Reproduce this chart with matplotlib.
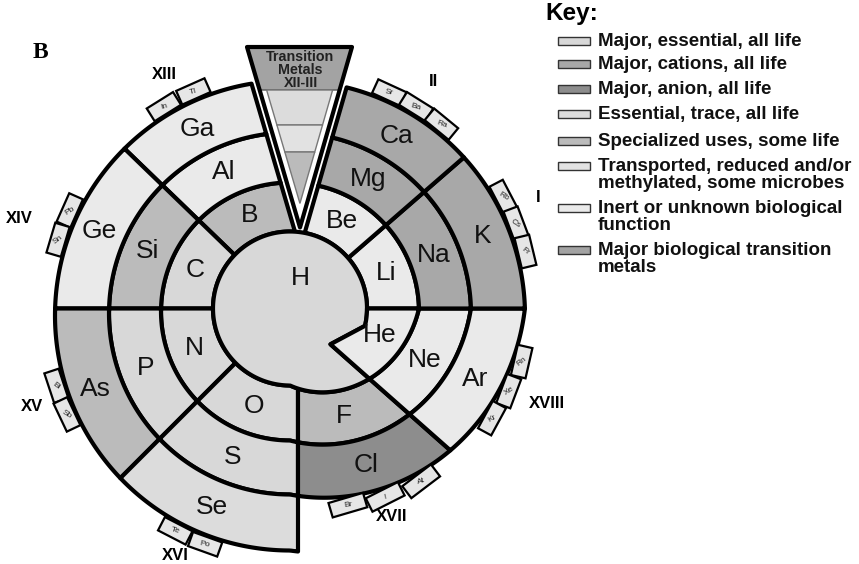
import numpy as np
import matplotlib.pyplot as plt
from matplotlib.patches import Polygon, Rectangle

plt.rcParams['font.family'] = ['Liberation Sans', 'DejaVu Sans']

# elements on each turn of the spiral, counter-clockwise from 3 o'clock
core = ['H', 'He']
band1 = ['Li', 'Be', 'B', 'C', 'N', 'O', 'F', 'Ne']
band2 = ['Na', 'Mg', 'Al', 'Si', 'P', 'S', 'Cl', 'Ar']
band3 = ['K', 'Ca', 'Ga', 'Ge', 'As', 'Se']

category = {
    'H': 'essential', 'C': 'essential', 'N': 'essential', 'O': 'essential',
    'P': 'essential', 'S': 'essential',
    'Na': 'cation', 'K': 'cation', 'Mg': 'cation', 'Ca': 'cation',
    'Cl': 'anion',
    'Se': 'trace',
    'B': 'special', 'Si': 'special', 'F': 'special', 'As': 'special',
    'He': 'inert', 'Ne': 'inert', 'Ar': 'inert', 'Li': 'inert', 'Be': 'inert',
    'Al': 'inert', 'Ga': 'inert', 'Ge': 'inert',
}

key_cats = ['essential', 'cation', 'anion', 'trace', 'special',
            'transported', 'inert', 'transition']
key_text = ['Major, essential, all life',
            'Major, cations, all life',
            'Major, anion, all life',
            'Essential, trace, all life',
            'Specialized uses, some life',
            'Transported, reduced and/or\nmethylated, some microbes',
            'Inert or unknown biological\nfunction',
            'Major biological transition\nmetals']

group_names = ['I', 'II', 'XIII', 'XIV', 'XV', 'XVI', 'XVII', 'XVIII']
group_members = [['Rb', 'Cs', 'Fr'], ['Sr', 'Ba', 'Ra'], ['In', 'Tl'],
                 ['Pb', 'Sn'], ['Bi', 'Sb'], ['Te', 'Po'],
                 ['Br', 'I', 'At'], ['Rn', 'Xe', 'Kr']]

wedge_title = 'Transition\nMetals\nXII-III'
wedge_rows = ['trace', 'transported', 'special']

shade = {'essential': '#d8d8d8', 'cation': '#a8a8a8', 'anion': '#8d8d8d',
         'trace': '#dcdcdc', 'special': '#bbbbbb', 'transported': '#e2e2e2',
         'inert': '#eaeaea', 'transition': '#a3a3a3'}

# ---- layout (pixels) ----
W, Hgt = 859, 564
cx, cy = 290, 308.5
R = [77, 129, 181, 235, 287]
D = [0, 3, 5, 7, 9]

box_angle = {'Rb': 27.6, 'Cs': 20.6, 'Fr': 13.6, 'Sr': 65.3, 'Ba': 58.0,
             'Ra': 50.6, 'In': 122, 'Tl': 114, 'Pb': 156, 'Sn': 163.5,
             'Bi': 198.3, 'Sb': 205.4, 'Te': 242.7, 'Po': 250.2,
             'Br': 286.4, 'I': 296.8, 'At': 307.2,
             'Rn': 347.1, 'Xe': 339.3, 'Kr': 331.5}
group_pos = {'I': (24.2, 272), 'II': (57.7, 268), 'XIII': (118.2, 265),
             'XIV': (161.5, 285), 'XV': (200.9, 276), 'XVI': (245, 272),
             'XVII': (296.1, 232), 'XVIII': (339.8, 274)}


def base(k, th):
    t = np.radians(th)
    return -D[k] * np.sin(t) + np.sqrt(R[k] ** 2 - (D[k] * np.cos(t)) ** 2)


def spiral(k, th):
    th = np.asarray(th, float)
    f = np.clip((th - 270) / 90, 0, 1)
    return (1 - f) * base(k, th) + f * base(k + 1, th)


def to_px(r, th):
    t = np.radians(th)
    return np.column_stack([cx + r * np.cos(t), cy - r * np.sin(t)])


def radial(a, off=0.0):
    t = np.radians(a)
    return (off * np.array([-np.sin(t), np.cos(t)]),
            np.array([np.cos(t), np.sin(t)]))


def hit(line, k, guess):
    p, d = line
    th = guess
    for _ in range(8):
        rho = spiral(k, th)
        pd = p @ d
        s = -pd + np.sqrt(max(pd ** 2 - p @ p + rho ** 2, 0))
        x, y = p + s * d
        a = np.degrees(np.arctan2(y, x))
        th = guess + (a - guess + 180) % 360 - 180
    return th


def sector(k, l0, l1, a0, a1, n=90):
    i0, i1 = hit(l0, k - 1, a0), hit(l1, k - 1, a1)
    o0, o1 = hit(l0, k, a0), hit(l1, k, a1)
    ti = np.linspace(i0, i1, n)
    to = np.linspace(o1, o0, n)
    pts = np.vstack([to_px(spiral(k - 1, ti), ti), to_px(spiral(k, to), to)])
    return pts, (i0 + i1 + o0 + o1) / 4


# transition-metal wedge (math coords relative to centre, y up)
tip = np.array([10.0, 81.0])
top_l = np.array([-43.0, 261.5])
top_r = np.array([62.0, 261.5])
gap = 6.0
d_r = (top_r - tip) / np.linalg.norm(top_r - tip)
d_l = (top_l - tip) / np.linalg.norm(top_l - tip)
cut_r = (tip + gap * np.array([d_r[1], -d_r[0]]), d_r)
cut_l = (tip + gap * np.array([-d_l[1], d_l[0]]), d_l)

lines = [radial(0), radial(41), cut_r, cut_l, radial(136), radial(180),
         radial(225), radial(270, 8), radial(318.5), radial(360)]
guess = [0, 41, 78, 100, 136, 180, 225, 270, 318.5, 360]
pairs = [(0, 1), (1, 2), (3, 4), (4, 5), (5, 6), (6, 7), (7, 8), (8, 9)]

fig = plt.figure(figsize=(W / 100, Hgt / 100), dpi=100)
ax = fig.add_axes([0, 0, 1, 1])
ax.set_xlim(0, W)
ax.set_ylim(Hgt, 0)
ax.axis('off')

edge = dict(edgecolor='black', linewidth=3, joinstyle='round')
lab = dict(fontsize=19, ha='center', va='center', color='#111111')

for k, band in enumerate([band1, band2, band3], start=1):
    for el, (a, b) in zip(band, pairs):
        pts, am = sector(k, lines[a], lines[b], guess[a], guess[b])
        ax.add_patch(Polygon(pts, closed=True, facecolor=shade[category[el]], **edge))
        rm = (spiral(k - 1, am) + spiral(k, am)) / 2
        x, y = to_px(rm, am)[0]
        ax.text(x, y, el, **lab)

# H and He in the centre
notch = to_px(54, 318.5)
th = np.linspace(-13, 318.5, 200)
h_pts = np.vstack([to_px(spiral(0, th), th), notch])
ax.add_patch(Polygon(h_pts, closed=True, facecolor=shade[category['H']], **edge))
th1 = np.linspace(318.5, 360, 60)
th2 = np.linspace(0, -13, 20)
he_pts = np.vstack([notch, to_px(spiral(0, th1), th1), to_px(np.full(20, R[0]), th2)])
ax.add_patch(Polygon(he_pts, closed=True, facecolor=shade[category['He']], **edge))
x, y = to_px(32, 72)[0]
ax.text(x, y, 'H', **lab)
x, y = to_px(94, 343.6)[0]
ax.text(x, y, 'He', **lab)

# wedge
TL = np.array([cx + top_l[0], cy - top_l[1]])
TR = np.array([cx + top_r[0], cy - top_r[1]])
TP = np.array([cx + tip[0], cy - tip[1]])


def xl(y, inset=0):
    return TL[0] + (y - TL[1]) / (TP[1] - TL[1]) * (TP[0] - TL[0]) + inset


def xr(y, inset=0):
    return TR[0] + (y - TR[1]) / (TP[1] - TR[1]) * (TP[0] - TR[0]) - inset


ax.add_patch(Polygon([TL, TR, TP], closed=True, facecolor='white', edgecolor='none'))
yt = 90
ax.add_patch(Polygon([(xl(TL[1]), TL[1]), (xr(TL[1]), TL[1]), (xr(yt), yt), (xl(yt), yt)],
                     closed=True, facecolor=shade['transition'], edgecolor='#555555', linewidth=1))
ins = 7
tip_y = TL[1] + (1 - 2 * ins / (TR[0] - TL[0])) * (TP[1] - TL[1])
row_y = [yt, 125, 152, tip_y]
for cat, y0, y1 in zip(wedge_rows, row_y[:-1], row_y[1:]):
    if y1 >= tip_y - 0.5:
        poly = [(xl(y0, ins), y0), (xr(y0, ins), y0), ((xl(y1, ins) + xr(y1, ins)) / 2, y1)]
    else:
        poly = [(xl(y0, ins), y0), (xr(y0, ins), y0), (xr(y1, ins), y1), (xl(y1, ins), y1)]
    ax.add_patch(Polygon(poly, closed=True, facecolor=shade[cat], edgecolor='#777777', linewidth=1))
ax.add_patch(Polygon([TL, TR, TP], closed=True, facecolor='none', **edge))
ax.text((TL[0] + TR[0]) / 2 + 1, 70, wedge_title, fontsize=10.3, fontweight='bold',
        ha='center', va='center', linespacing=0.92, color='#222222')

# small boxes for the heavier elements
outer_turn = {'XVII': 2, 'XVIII': 2}
for g, members in zip(group_names, group_members):
    k = outer_turn.get(g, 3)
    for el in members:
        a = box_angle[el]
        ra = float(spiral(k, a)) if k == 2 else float(base(3, a))
        rc = ra + 9
        w = 36 if g == 'XVII' else 31
        hb = 15
        t = np.radians(a)
        u = np.array([np.cos(t), -np.sin(t)])
        tg = np.array([-np.sin(t), -np.cos(t)])
        c = np.array([cx, cy]) + rc * u
        corners = [c + w / 2 * tg - hb / 2 * u, c - w / 2 * tg - hb / 2 * u,
                   c - w / 2 * tg + hb / 2 * u, c + w / 2 * tg + hb / 2 * u]
        ax.add_patch(Polygon(corners, closed=True, facecolor='#e6e6e6',
                             edgecolor='black', linewidth=1.6, joinstyle='miter'))
        rot = (a - 90 + 90) % 180 - 90
        ax.text(c[0], c[1], el, fontsize=6, ha='center', va='center',
                rotation=rot * 0.5, color='#222222')
    ga, gr = group_pos[g]
    x, y = to_px(gr, ga)[0]
    ax.text(x, y, g, fontsize=12, fontweight='bold', ha='center', va='center')

ax.text(40, 53, 'B', fontsize=17, fontweight='bold', family='Liberation Serif',
        ha='center', va='center')

# key
ax.text(545, 20, 'Key:', fontsize=17.5, fontweight='bold', ha='left', va='baseline')
key_y = [41, 64, 89, 114, 141, 166, 208, 250]
for cat, txt, yk in zip(key_cats, key_text, key_y):
    ax.add_patch(Rectangle((558, yk - 4), 32, 8, facecolor=shade[cat],
                           edgecolor='#333333', linewidth=1))
    for i, line in enumerate(txt.split('\n')):
        ax.text(598, yk + 5 + 17 * i, line, fontsize=13.5, fontweight='bold',
                ha='left', va='baseline', color='#111111')

fig.savefig('out.png', dpi=100)
